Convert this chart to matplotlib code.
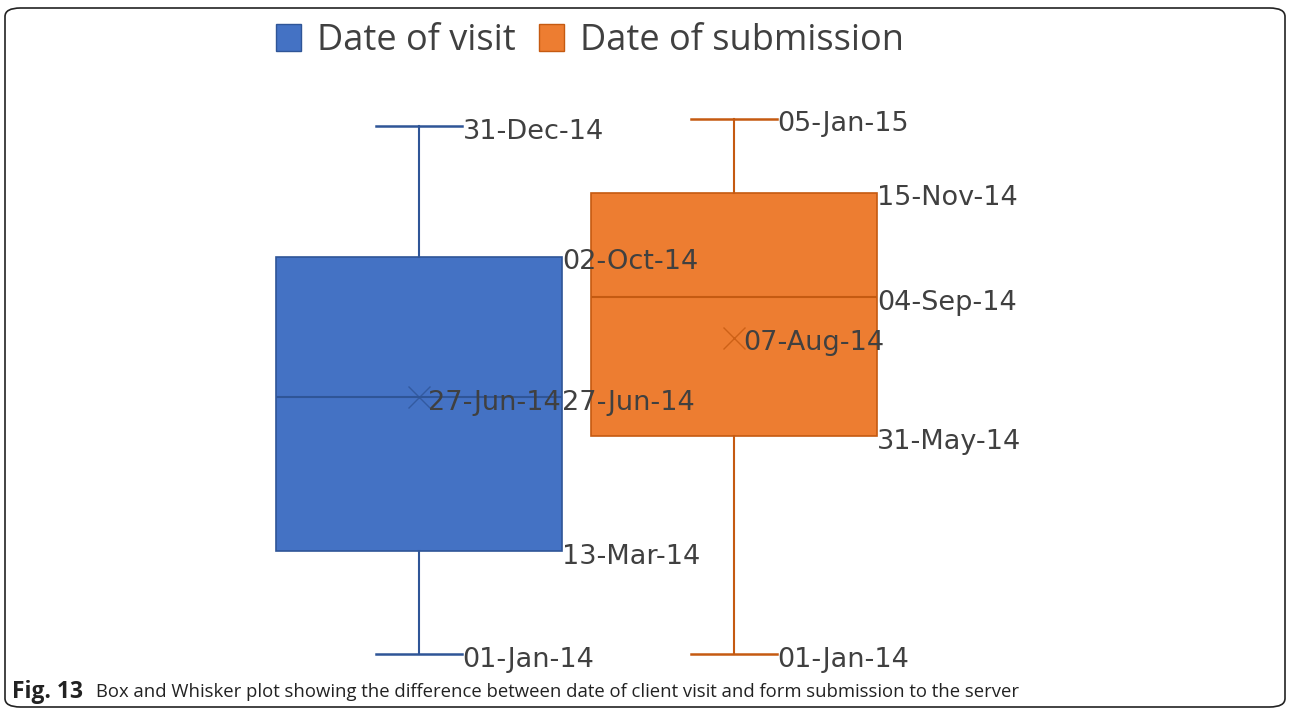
import matplotlib
matplotlib.use("Agg")
import matplotlib.pyplot as plt
import matplotlib.dates as mdates
from matplotlib.patches import Patch, FancyBboxPatch
from matplotlib.transforms import offset_copy
import datetime as dt

series = ["Date of visit", "Date of submission"]
whislo = ["2014-01-01", "2014-01-01"]
q1 = ["2014-03-13", "2014-05-31"]
median = ["2014-06-27", "2014-09-04"]
q3 = ["2014-10-02", "2014-11-15"]
whishi = ["2014-12-31", "2015-01-05"]
mean = ["2014-06-27", "2014-08-07"]
fills = ["#4472C4", "#ED7D31"]
edges = ["#2F5597", "#C55A11"]

def d(s):
    return mdates.date2num(dt.datetime.strptime(s, "%Y-%m-%d"))

def lab(s):
    return dt.datetime.strptime(s, "%Y-%m-%d").strftime("%d-%b-%y")

plt.rcParams['font.family'] = ['Open Sans', 'DejaVu Sans']
fig = plt.figure(figsize=(12.9, 7.13), dpi=100)
ax = fig.add_axes([0, 0, 1, 1])
ax.set_axis_off()

# pixel calibration of axes limits
ppd = 528 / 364.0
base = d("2014-01-01")
ax.set_ylim(base - 59 / ppd, base + 654 / ppd)
ax.set_xlim(1 - 419 / 315.0, 1 + 871 / 315.0)

positions = [1, 2]
box_w = 0.91
cap_w = 0.276
text_c = "#404040"
fs = 19.5

for i in range(2):
    stats = [dict(med=d(median[i]), q1=d(q1[i]), q3=d(q3[i]),
                  whislo=d(whislo[i]), whishi=d(whishi[i]), mean=d(mean[i]))]
    ax.bxp(stats, positions=[positions[i]], widths=box_w, patch_artist=True,
           showmeans=True, showfliers=False, capwidths=cap_w,
           boxprops=dict(facecolor=fills[i], edgecolor=edges[i], linewidth=1.2),
           whiskerprops=dict(color=edges[i], linewidth=1.5),
           capprops=dict(color=edges[i], linewidth=1.8),
           medianprops=dict(color=edges[i], linewidth=1.5),
           meanprops=dict(marker='x', markeredgecolor=edges[i], markersize=16,
                          markeredgewidth=1.0, alpha=0.8),
           manage_ticks=False)

tr = offset_copy(ax.transData, fig=fig, x=0, y=-4, units='points')
for i in range(2):
    p = positions[i]
    for val, xo in [(whishi[i], cap_w / 2), (whislo[i], cap_w / 2),
                    (q3[i], box_w / 2), (q1[i], box_w / 2),
                    (median[i], box_w / 2), (mean[i], 0.03)]:
        ax.text(p + xo, d(val), lab(val), transform=tr, ha='left', va='center',
                fontsize=fs, color=text_c, family='DejaVu Sans')

handles = [Patch(facecolor=fills[i], edgecolor=edges[i]) for i in range(2)]
fig.legend(handles, series, loc='center', bbox_to_anchor=(590 / 1290, 1 - 41 / 713),
           ncol=2, frameon=False, fontsize=26, handlelength=0.7, handleheight=0.8,
           handletextpad=0.45, columnspacing=0.62, labelcolor=text_c)

frame = FancyBboxPatch((5 / 1290, 6 / 713), 1280 / 1290, 699 / 713,
                       boxstyle="round,pad=0,rounding_size=0.012",
                       transform=fig.transFigure, fill=False, edgecolor="#222222",
                       linewidth=1.2)
fig.patches.append(frame)

fig.text(12 / 1290, 1 - 692 / 713, "Fig. 13", fontsize=16.5, fontweight='bold',
         va='center', ha='left', color="#222222")
fig.text(96 / 1290, 1 - 692 / 713,
         "Box and Whisker plot showing the difference between date of client visit and form submission to the server",
         fontsize=13.35, va='center', ha='left', color="#222222")

fig.savefig("out.png", dpi=100)
